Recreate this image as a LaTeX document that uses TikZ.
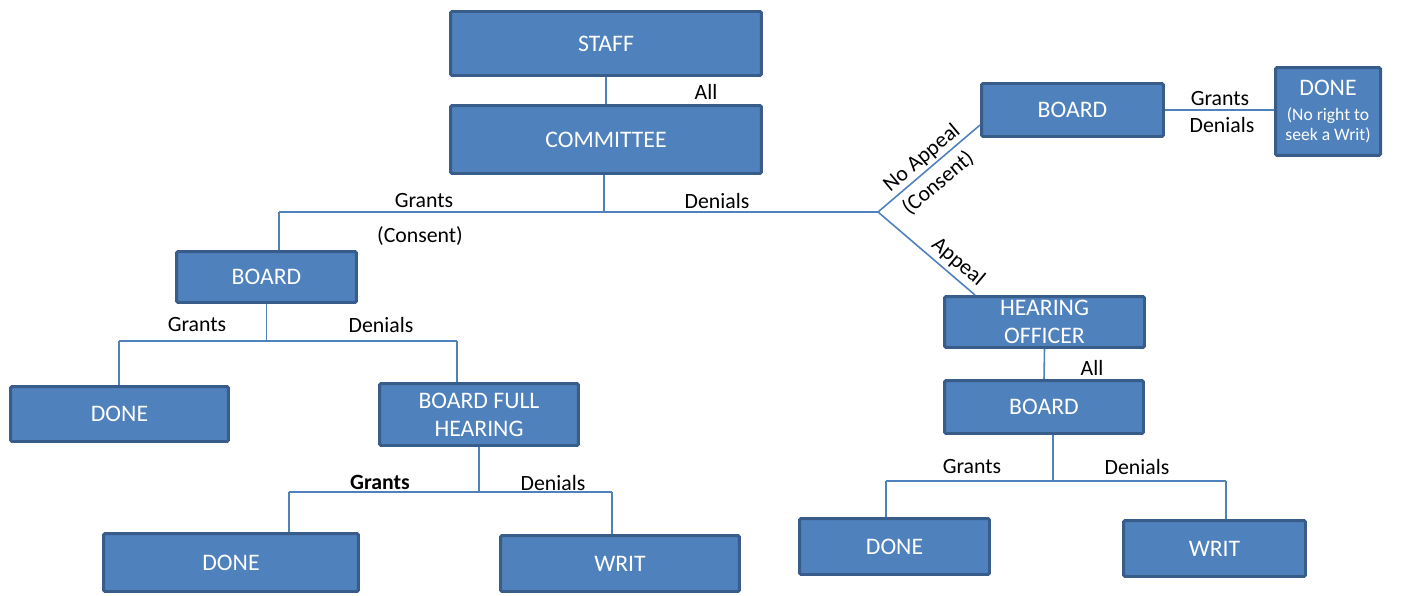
\documentclass[tikz,border=0pt]{standalone}
\usepackage{fontspec}
\setmainfont{Carlito}
\usepackage{tikz}
\usetikzlibrary{calc}
\definecolor{boxblue}{RGB}{79,129,189}
\definecolor{boxedge}{RGB}{56,93,138}
\tikzset{
  box/.style={draw=boxedge, fill=boxblue, line width=1.7pt, rounded corners=0.8pt,
    text=white, inner sep=0pt, align=center, font=\fontsize{13.5}{16}\selectfont},
  lbl/.style={inner sep=0pt, font=\fontsize{12.4}{15}\selectfont},
  link/.style={draw=boxblue, line width=0.9pt}
}
\newcommand{\smalltxt}{\fontsize{10}{12}\selectfont}
\begin{document}
\begin{tikzpicture}[x=0.02cm,y=-0.02cm]
\useasboundingbox (0,0) rectangle (1413,595);

%staff and committee
\node[box, minimum width=6.22cm, minimum height=1.28cm] (staff) at (606,43.5) {STAFF};
\node[box, minimum width=6.22cm, minimum height=1.36cm] (committee) at (606,139.5) {COMMITTEE};
\draw[link] (staff.south) -- (committee.north);
\node[lbl] (all1) at (706,92) {All};

\coordinate (cj) at (604,212);
\coordinate (cl) at (279,212);
\coordinate (cr) at (878,212);
\draw[link] (committee.south -| cj) -- (cj);
\draw[link] (cl) -- (cr);
\node[lbl] (grants1) at (424,201) {Grants};
\node[lbl] (consent1) at (420,236) {(Consent)};
\node[lbl] (denials1) at (717,201) {Denials};

%left branch
\node[box, minimum width=3.60cm, minimum height=1.02cm] (boardL) at (266.5,277) {BOARD};
\draw[link] (cl) -- (cl |- boardL.north);

\coordinate (bl) at (119,341);
\coordinate (br) at (457,341);
\draw[link] (boardL.south) -- (boardL.south |- bl);
\draw[link] (bl) -- (br);
\node[lbl] (grants2) at (197,325) {Grants};
\node[lbl] (denials2) at (381,325) {Denials};

\node[box, minimum width=4.36cm, minimum height=1.10cm] (doneL) at (119.5,414) {DONE};
\node[box, minimum width=3.98cm, minimum height=1.24cm] (bfh) at (479,414.5) {BOARD FULL\\HEARING};
\draw[link] (bl) -- (bl |- doneL.north);
\draw[link] (br) -- (br |- bfh.north);

\coordinate (fl) at (289,492);
\coordinate (fr) at (612,492);
\draw[link] (bfh.south) -- (bfh.south |- fl);
\draw[link] (fl) -- (fr);
\node[lbl, font=\fontsize{12.4}{15}\selectfont\bfseries] (grants3) at (380,482) {Grants};
\node[lbl] (denials3) at (553,483) {Denials};

\node[box, minimum width=5.10cm, minimum height=1.16cm] (doneLL) at (231,562.5) {DONE};
\node[box, minimum width=4.78cm, minimum height=1.12cm] (writL) at (620,563.5) {WRIT};
\draw[link] (fl) -- (fl |- doneLL.north);
\draw[link] (fr) -- (fr |- writL.north);

%no appeal
\node[box, minimum width=3.64cm, minimum height=1.06cm] (boardR) at (1072.5,110) {BOARD};
\node[box, minimum width=2.10cm, minimum height=1.76cm] (doneR) at (1328,111.5)
  {DONE\\[-1.8pt]{\smalltxt (No right to}\\[-4.7pt]{\smalltxt seek a Writ)}};
\draw[link] (cr) -- ($(boardR.west)+(0,15)$);
\draw[link] (boardR.east) -- (doneR.west |- boardR.east);
\node[lbl, rotate=40] (noappeal) at (922,158) {No Appeal};
\node[lbl, rotate=40] (consent2) at (938,183) {(Consent)};
\node[lbl] (grants4) at (1220,99) {Grants};
\node[lbl] (denials4) at (1222,125) {Denials};

%appeal
\node[box, minimum width=4.00cm, minimum height=1.02cm] (ho) at (1044.5,322) {HEARING\\OFFICER};
\draw[link] (cr) -- ($(ho.north west)+(32,0)$);
\node[lbl, rotate=-40] (appeal) at (958,262) {Appeal};

\node[box, minimum width=3.98cm, minimum height=1.06cm] (boardRR) at (1044,407) {BOARD};
\draw[link] (ho.south) -- (boardRR.north);
\node[lbl] (all2) at (1092,368) {All};

\coordinate (qm) at (1053,481);
\coordinate (ql) at (886,481);
\coordinate (qr) at (1226,481);
\draw[link] (boardRR.south -| qm) -- (qm);
\draw[link] (ql) -- (qr);
\node[lbl] (grants5) at (972,467) {Grants};
\node[lbl] (denials5) at (1137,467) {Denials};

\node[box, minimum width=3.80cm, minimum height=1.12cm] (doneRR) at (894.5,546.5) {DONE};
\node[box, minimum width=3.64cm, minimum height=1.12cm] (writR) at (1214.5,548.5) {WRIT};
\draw[link] (ql) -- (ql |- doneRR.north);
\draw[link] (qr) -- (qr |- writR.north);

\end{tikzpicture}
\end{document}
